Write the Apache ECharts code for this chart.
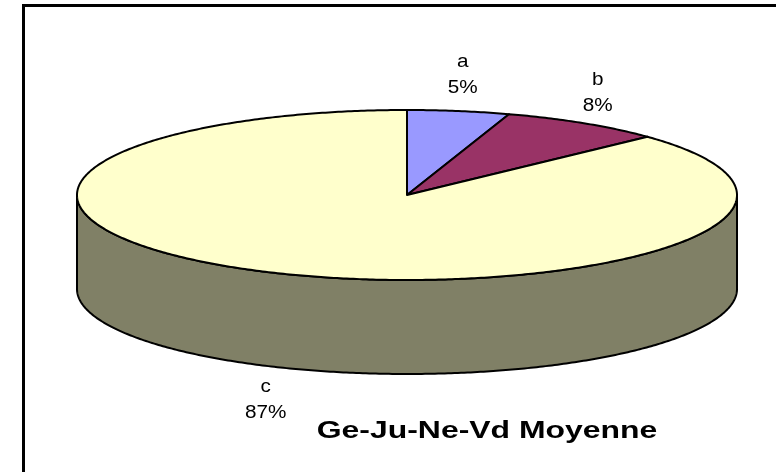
<!DOCTYPE html>
<html>
<head>
<meta charset="utf-8">
<script src="https://cdn.jsdelivr.net/npm/echarts@6/dist/echarts.min.js"></script>
<style>
  html, body { margin: 0; padding: 0; background: #ffffff; }
  #chart { width: 776px; height: 472px; }
</style>
</head>
<body>
<div id="chart"></div>
<script>
// Slice data
const categories = ['a', 'b', 'c'];
const shares = [5, 8, 87];
const topColors = ['#9999FF', '#993366', '#FFFFCC'];
const sideColors = ['#4C4C80', '#4C1933', '#808066'];
const chartTitle = 'Ge-Ju-Ne-Vd Moyenne';

// Projected disc geometry (tilted pie)
const CX = 407, CY = 195, RX = 330, RY = 85, DEPTH = 94;
const LRX = 356, LRY = 121; // label ring
const total = shares.reduce((s, v) => s + v, 0);
const FONT = '"Liberation Sans", Arial, sans-serif';

function pt(theta, dy) {
  return [CX + RX * Math.sin(theta), CY - RY * Math.cos(theta) + (dy || 0)];
}
function arc(a0, a1, dy) {
  const pts = [];
  const n = Math.max(2, Math.ceil(Math.abs(a1 - a0) / 0.01));
  for (let i = 0; i <= n; i++) pts.push(pt(a0 + (a1 - a0) * i / n, dy));
  return pts;
}

function renderItem(params, api) {
  const idx = params.dataIndex;
  const val = api.value(1);
  let before = 0;
  for (let i = 0; i < idx; i++) before += shares[i];
  const a0 = before / total * Math.PI * 2;
  const a1 = (before + val) / total * Math.PI * 2;
  const children = [];

  // front wall, visible between 90° and 270°
  const s = Math.max(a0, Math.PI / 2), e = Math.min(a1, Math.PI * 1.5);
  if (s < e) {
    const pts = arc(s, e, 0).concat(arc(e, s, DEPTH));
    children.push({
      type: 'polygon',
      shape: { points: pts },
      style: { fill: sideColors[idx], stroke: '#000', lineWidth: 2, lineJoin: 'round' }
    });
  }

  // top face
  children.push({
    type: 'polygon',
    shape: { points: [[CX, CY]].concat(arc(a0, a1, 0)) },
    style: { fill: topColors[idx], stroke: '#000', lineWidth: 2, lineJoin: 'round' }
  });

  // label at mid angle
  const mid = (a0 + a1) / 2;
  let lx = CX + LRX * Math.sin(mid);
  let ly = CY - LRY * Math.cos(mid);
  if (Math.cos(mid) < 0) ly += DEPTH;
  children.push({
    type: 'text',
    x: lx, y: ly,
    scaleX: 1.15,
    style: {
      text: categories[idx] + '\n' + Math.round(val / total * 100) + '%',
      x: 0, y: 0,
      align: 'center', verticalAlign: 'middle',
      font: '18px ' + FONT, lineHeight: 26,
      fill: '#000'
    }
  });

  return { type: 'group', children: children };
}

const chart = echarts.init(document.getElementById('chart'), null, { renderer: 'canvas' });
chart.setOption({
  backgroundColor: '#ffffff',
  animation: false,
  graphic: [
    {
      type: 'polyline',
      shape: { points: [[23.5, 480], [23.5, 5.5], [790, 5.5]] },
      style: { stroke: '#000', lineWidth: 3, fill: null }
    },
    {
      type: 'text',
      x: 487, y: 431,
      scaleX: 1.33,
      style: {
        text: chartTitle,
        x: 0, y: 0,
        align: 'center', verticalAlign: 'middle',
        font: 'bold 24px ' + FONT,
        fill: '#000'
      }
    }
  ],
  series: [{
    type: 'custom',
    coordinateSystem: 'none',
    renderItem: renderItem,
    data: categories.map((c, i) => [i, shares[i]])
  }]
});
</script>
</body>
</html>
